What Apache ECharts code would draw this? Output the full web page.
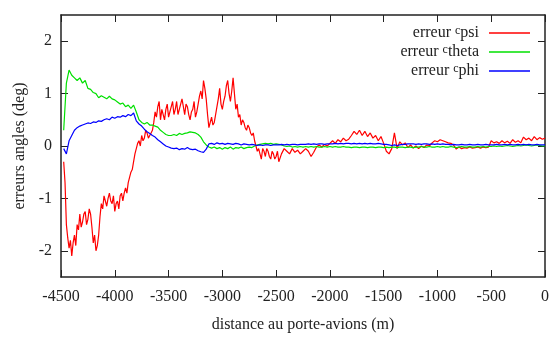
<!DOCTYPE html>
<html>
<head>
<meta charset="utf-8">
<script src="https://cdn.jsdelivr.net/npm/echarts@6/dist/echarts.min.js"></script>
<style>
html,body{margin:0;padding:0;background:#fff;}
#chart{width:555px;height:338px;}
</style>
</head>
<body>
<div id="chart"></div>
<script>
// Sampling grid of distance (m)
const DIST_START = -4475;      // first sample, all series
const DIST_STEP = 25;          // theta, phi spacing
const PSI_FINE_STEP = 12.5;    // psi spacing up to -2475 m
const PSI_TAIL_START = -2450;  // psi coarse part
const PSI_TAIL_STEP = 25;

// x tick labels
const xTicks = [-4500, -4000, -3500, -3000, -2500, -2000, -1500, -1000, -500, 0];
// y tick labels
const yTicks = [-2, -1, 0, 1, 2];

const seriesNames = ['psi', 'theta', 'phi'];

// erreur psi (deg), -4475 .. -2475 every 12.5 m
const psiFine = [
  -0.3, -0.7, -1.5, -1.75, -1.95, -1.8, -2.1, -1.85, -1.7, -1.9,
  -1.5, -1.6, -1.3, -1.55, -1.45, -1.3, -1.25, -1.5, -1.4, -1.2,
  -1.3, -1.55, -1.85, -1.7, -2.0, -1.9, -1.7, -1.35, -1.1, -1.2,
  -0.95, -1.05, -1.15, -1.0, -0.9, -1.05, -1.1, -0.95, -1.25, -1.1,
  -1.05, -1.2, -0.95, -0.9, -1.05, -0.9, -0.8, -0.9, -0.7, -0.6,
  -0.5, -0.45, -0.3, -0.15, -0.05, 0.05, 0.1, 0.0, 0.2, 0.1,
  0.15, 0.3, 0.25, 0.15, 0.2, 0.25, 0.3, 0.45, 0.65, 0.55,
  0.75, 0.85, 0.5, 0.7, 0.6, 0.5, 0.7, 0.8, 0.55, 0.65,
  0.75, 0.85, 0.6, 0.7, 0.85, 0.6, 0.7, 0.8, 0.9, 0.75,
  0.6, 0.8, 0.75, 0.6, 0.5, 0.65, 0.7, 0.85, 0.55, 0.65,
  0.8, 0.95, 1.05, 0.9, 1.25, 1.1, 0.9, 0.6, 0.35, 0.45,
  0.55, 0.4, 0.45, 0.6, 0.75, 0.9, 1.1, 0.8, 0.7, 0.85,
  0.95, 1.15, 1.25, 1.0, 0.85, 1.05, 1.3, 1.0, 0.7, 0.8,
  0.55, 0.6, 0.4, 0.5, 0.45, 0.35, 0.3, 0.4, 0.35, 0.25,
  0.2, 0.25, 0.1, 0.0, -0.1, -0.05, -0.15, -0.25, -0.05, -0.1,
  -0.2, -0.05, -0.1, -0.2, -0.25, -0.1, -0.15, -0.25, -0.2, -0.1,
  -0.3
];

// erreur psi (deg), -2450 .. 0 every 25 m
const psiTail = [
  -0.15, -0.05, -0.1, -0.15, -0.05, -0.12, -0.08, -0.15, -0.1,
  -0.05, -0.1, -0.2, -0.12, -0.02, 0.02, -0.02, 0.03, 0.0, 0.05,
  0.1, 0.05, 0.12, 0.08, 0.15, 0.1, 0.13, 0.2, 0.28, 0.22,
  0.3, 0.2, 0.28, 0.18, 0.25, 0.15, 0.2, 0.1, 0.18, 0.05,
  -0.1, -0.15, -0.05, 0.25, -0.05, 0.08, 0.02, 0.06, -0.03, 0.02,
  -0.04, 0.0, -0.05, 0.0, -0.03, 0.02, 0.0, 0.06, 0.1, 0.08,
  0.12, 0.1, 0.08, 0.06, 0.05, 0.02, -0.06, -0.02, -0.05, -0.03,
  -0.04, -0.02, -0.04, -0.03, -0.02, -0.04, -0.02, -0.03, -0.02, 0.1,
  0.06, 0.08, 0.05, 0.1, 0.06, 0.09, 0.05, 0.12, 0.07, 0.1,
  0.06, 0.17, 0.12, 0.15, 0.1, 0.18, 0.12, 0.16, 0.13, 0.15
];

// erreur theta (deg), every 25 m
const theta = [
  0.3, 1.2, 1.45, 1.35, 1.3, 1.25, 1.3, 1.2, 1.25, 1.1,
  1.08, 1.02, 1.0, 0.92, 0.96, 0.93, 0.9, 0.95, 0.9, 0.88,
  0.84, 0.8, 0.82, 0.75, 0.78, 0.72, 0.78, 0.65, 0.5, 0.45,
  0.42, 0.45, 0.4, 0.4, 0.38, 0.36, 0.3, 0.26, 0.22, 0.2,
  0.2, 0.22, 0.2, 0.24, 0.22, 0.24, 0.25, 0.27, 0.26, 0.25,
  0.22, 0.17, 0.08, 0.02, -0.02, -0.04, -0.02, -0.05, -0.03, -0.06,
  -0.03, -0.05, -0.02, -0.06, -0.03, -0.04, -0.02, -0.05, -0.03, -0.02,
  -0.03, 0.0, 0.02, 0.03, 0.04, 0.05, 0.04, 0.05, 0.03, 0.04,
  0.03, 0.02, 0.0, -0.01, 0.0, -0.02, -0.01, -0.02, -0.01, -0.02,
  -0.01, -0.02, -0.01, -0.02, -0.01, -0.02, -0.02, -0.01, -0.02, -0.01,
  -0.02, -0.01, -0.02, -0.02, -0.01, -0.02, -0.02, -0.03, -0.02, -0.02,
  -0.03, -0.02, -0.02, -0.03, -0.02, -0.02, -0.03, -0.02, -0.02, -0.03,
  -0.02, -0.03, -0.02, -0.02, -0.03, -0.02, -0.02, -0.03, -0.02, -0.02,
  -0.03, -0.02, -0.02, -0.01, -0.02, -0.02, -0.01, -0.02, -0.02, -0.01,
  -0.02, -0.01, -0.02, -0.02, -0.01, -0.02, -0.03, -0.02, -0.01, -0.02,
  -0.02, -0.01, -0.02, -0.02, -0.01, -0.02, -0.01, -0.02, -0.01, -0.01,
  0.0, -0.01, 0.0, -0.01, 0.0, 0.01, 0.0, -0.01, 0.0, 0.01,
  0.0, 0.01, 0.02, 0.01, 0.0, 0.01, 0.02, 0.01, 0.0, 0.0
];

// erreur phi (deg), every 25 m
const phi = [
  -0.05, -0.15, 0.1, 0.2, 0.3, 0.35, 0.38, 0.4, 0.42, 0.44,
  0.43, 0.46, 0.45, 0.48, 0.47, 0.5, 0.52, 0.5, 0.55, 0.53,
  0.56, 0.55, 0.58, 0.56, 0.6, 0.58, 0.63, 0.48, 0.42, 0.38,
  0.32, 0.27, 0.24, 0.2, 0.17, 0.12, 0.08, 0.04, 0.0, -0.02,
  -0.04, -0.05, -0.04, -0.07, -0.05, -0.06, -0.03, -0.06, -0.07, -0.06,
  -0.09, -0.11, -0.12, -0.06, 0.04, 0.05, 0.03, 0.06, 0.04, 0.05,
  0.03, 0.05, 0.04, 0.03, 0.05, 0.04, 0.02, 0.04, 0.03, 0.02,
  0.03, 0.02, 0.01, 0.02, 0.01, 0.02, 0.02, 0.01, 0.02, 0.02,
  0.02, 0.03, 0.02, 0.03, 0.02, 0.03, 0.03, 0.02, 0.03, 0.03,
  0.03, 0.04, 0.03, 0.04, 0.03, 0.04, 0.04, 0.03, 0.04, 0.04,
  0.04, 0.05, 0.04, 0.05, 0.04, 0.05, 0.05, 0.04, 0.05, 0.04,
  0.05, 0.04, 0.05, 0.04, 0.05, 0.04, 0.04, 0.05, 0.04, 0.03,
  0.03, 0.02, 0.01, 0.02, 0.01, 0.02, 0.03, 0.03, 0.04, 0.04,
  0.04, 0.03, 0.04, 0.03, 0.04, 0.04, 0.03, 0.04, 0.03, 0.04,
  0.03, 0.04, 0.03, 0.03, 0.02, 0.03, 0.02, 0.02, 0.03, 0.02,
  0.02, 0.03, 0.02, 0.02, 0.03, 0.02, 0.02, 0.03, 0.02, 0.02,
  0.02, 0.03, 0.02, 0.02, 0.03, 0.02, 0.03, 0.02, 0.02, 0.03,
  0.02, 0.03, 0.02, 0.03, 0.02, 0.02, 0.03, 0.02, 0.02, 0.02
];

const FONT = 'Liberation Serif';
const AX = '#222';

function pairs(vals, start, step) {
  return vals.map((v, i) => [start + i * step, v]);
}
const psiData = pairs(psiFine, DIST_START, PSI_FINE_STEP)
  .concat(pairs(psiTail, PSI_TAIL_START, PSI_TAIL_STEP));

const chart = echarts.init(document.getElementById('chart'), null, { renderer: 'canvas' });

const axisLine = { show: true, onZero: false, lineStyle: { color: AX, width: 1.5 } };
const tickStyle = { show: true, inside: true, length: 7, lineStyle: { color: AX, width: 1 } };
const plain = v => String(v);

chart.setOption({
  animation: false,
  backgroundColor: '#fff',
  grid: { left: 61, right: 10, top: 15, bottom: 59, containLabel: false },
  legend: {
    orient: 'vertical',
    right: 20,
    top: 20,
    align: 'right',
    itemWidth: 41,
    itemHeight: 14,
    itemGap: 3,
    icon: 'path://M0 0H41V1.3H0Z',
    data: seriesNames,
    formatter: function (name) { return '{t|erreur }{s|c}{t|' + name + '}'; },
    textStyle: {
      padding: [0, 5, 0, 0],
      rich: {
        t: { fontFamily: FONT, fontSize: 16, color: AX, lineHeight: 16 },
        s: { fontFamily: FONT, fontSize: 12, color: AX, verticalAlign: 'top', lineHeight: 16 }
      }
    }
  },
  xAxis: [
    {
      type: 'value', position: 'bottom', min: -4500, max: 0, interval: 500,
      axisLine: axisLine, axisTick: tickStyle, splitLine: { show: false },
      axisLabel: { fontFamily: FONT, fontSize: 16, color: AX, margin: 12,
        customValues: xTicks, formatter: plain },
      name: 'distance au porte-avions (m)', nameLocation: 'middle', nameGap: 40,
      nameTextStyle: { fontFamily: FONT, fontSize: 16, color: AX }
    },
    {
      type: 'value', position: 'top', min: -4500, max: 0, interval: 500,
      axisLine: axisLine, axisTick: tickStyle, splitLine: { show: false },
      axisLabel: { show: false }
    }
  ],
  yAxis: [
    {
      type: 'value', position: 'left', min: -2.5, max: 2.5,
      axisLine: axisLine,
      axisTick: Object.assign({}, tickStyle, { customValues: yTicks }),
      splitLine: { show: false },
      axisLabel: { fontFamily: FONT, fontSize: 16, color: AX, margin: 9,
        customValues: yTicks, formatter: plain },
      name: 'erreurs angles (deg)', nameLocation: 'middle', nameGap: 33, nameRotate: 90,
      nameTextStyle: { fontFamily: FONT, fontSize: 16, color: AX }
    },
    {
      type: 'value', position: 'right', min: -2.5, max: 2.5,
      axisLine: axisLine,
      axisTick: Object.assign({}, tickStyle, { customValues: yTicks }),
      splitLine: { show: false },
      axisLabel: { show: false }
    }
  ],
  series: [
    { name: 'psi', type: 'line', data: psiData, symbol: 'none', showSymbol: false,
      lineStyle: { color: '#ff0000', width: 1.2 }, itemStyle: { color: '#ff0000' } },
    { name: 'theta', type: 'line', data: pairs(theta, DIST_START, DIST_STEP), symbol: 'none', showSymbol: false,
      lineStyle: { color: '#00e000', width: 1.2 }, itemStyle: { color: '#00e000' } },
    { name: 'phi', type: 'line', data: pairs(phi, DIST_START, DIST_STEP), symbol: 'none', showSymbol: false,
      lineStyle: { color: '#0000ff', width: 1.2 }, itemStyle: { color: '#0000ff' } }
  ]
});
</script>
</body>
</html>
